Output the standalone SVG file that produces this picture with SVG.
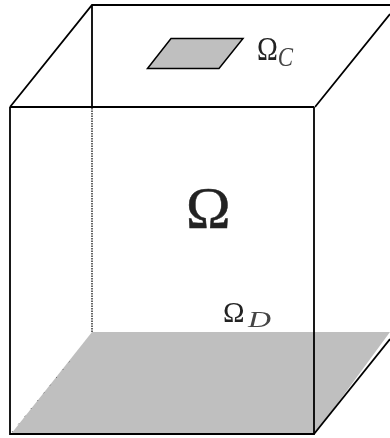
<svg xmlns="http://www.w3.org/2000/svg" width="390" height="438" viewBox="0 0 390 438">
<defs><filter id="soft" x="-10%" y="-10%" width="120%" height="120%"><feGaussianBlur stdDeviation="0.500"/></filter></defs>
<style>
.e{fill:none;stroke:#000;stroke-width:1.800}
.t{font-family:"Liberation Serif","DejaVu Serif",serif;fill:#222}
.i{font-style:italic;fill:#444}
</style>
<rect width="390" height="438" fill="#fff"/>
<g id="bottom-face"><polygon points="11,434 92,332 390,332 315,434" fill="#bfbfbf"/></g>
<g id="top-patch"><polygon points="147.500,68.500 171,38.500 243,38.500 219,68.500" fill="#bfbfbf" stroke="#000" stroke-width="1.500"/></g>
<g id="connectors">
<path class="e" d="M10,107 L92,5 L390,5 M92,5 V107 M315,107 L390,14"/>
<path class="e" d="M10,107 H314 M10,107 V434 H314 V107"/>
<path d="M92,108 V332" fill="none" stroke="#000" stroke-width="1.200" stroke-dasharray="1.500 1"/>
<path d="M314,434 L390,339" fill="none" stroke="#000" stroke-width="1.800"/>
<path d="M12,432 L70,361" fill="none" stroke="#444" stroke-width="0.800" stroke-dasharray="1 9"/>
</g>
<g id="label-omega" filter="url(#soft)"><text class="t" x="186" y="228" font-size="60" stroke="#222" stroke-width="0.500">Ω</text></g>
<g id="label-omega-c" filter="url(#soft)"><text class="t" transform="translate(257,60) scale(0.85,1)" font-size="33">Ω<tspan class="i" font-size="27" dy="6">C</tspan></text></g>
<g id="label-omega-d" filter="url(#soft)"><text class="t" x="223" y="322" font-size="29">Ω</text><text class="t i" x="248" y="327" font-size="23" textLength="23" lengthAdjust="spacingAndGlyphs">D</text></g>
</svg>
